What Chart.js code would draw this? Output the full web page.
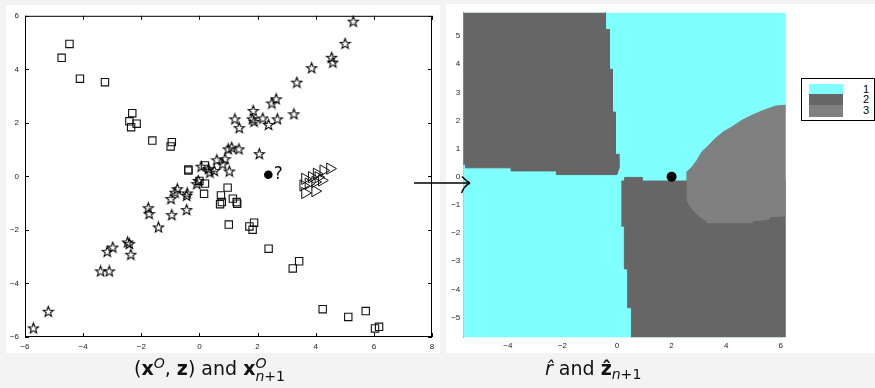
<!DOCTYPE html>
<html lang="en">
<head>
<meta charset="UTF-8">
<title>Scatter and class map</title>
<script src="https://cdn.jsdelivr.net/npm/chart.js"></script>
<style>
    body {
        margin: 0;
        width: 875px;
        height: 388px;
        background-color: #f3f3f3;
        position: relative;
        overflow: hidden;
        font-family: "DejaVu Sans", sans-serif;
    }
    .panel {
        position: absolute;
        background-color: white;
    }
    #leftPanel { left: 6px; top: 5px; width: 434px; height: 348px; }
    #rightPanel { left: 446px; top: 4px; width: 429px; height: 349px; }
    canvas { position: absolute; left: 0; top: 0; }
    .caption {
        position: absolute;
        font-size: 19px;
        color: #111;
        white-space: nowrap;
    }
    .caption b { font-weight: bold; }
    .ss {
        display: inline-block;
        vertical-align: -0.42em;
        line-height: 0.95;
        font-size: 0.74em;
    }
    .ss span { display: block; }
    sup { font-size: 0.74em; vertical-align: 0.55em; line-height: 0; }
    sub { font-size: 0.74em; vertical-align: -0.3em; line-height: 0; }
    #legendBox {
        position: absolute;
        left: 801px;
        top: 78px;
        width: 72px;
        height: 41px;
        border: 1px solid #000;
        background: white;
    }
    .swatch { position: absolute; left: 7px; width: 34px; }
    .lab { position: absolute; right: 5px; font: 11px "Liberation Sans", Arial, sans-serif; line-height: 11px; }
    #arrow { position: absolute; left: 0; top: 0; }
</style>
</head>
<body>
<div class="panel" id="leftPanel"><canvas id="leftChart" width="434" height="348"></canvas></div>
<div class="panel" id="rightPanel"><canvas id="rightChart" width="429" height="349"></canvas></div>
<div id="legendBox"></div>
<svg id="arrow" width="875" height="388">
    <line x1="414" y1="183" x2="469" y2="183" stroke="#000" stroke-width="1.4"/>
    <path d="M462 176.5 Q466 181 470 183 M461.5 193 Q464 186 470 183" stroke="#000" stroke-width="1.4" fill="none"/>
</svg>
<div class="caption" style="left:134px; top:357px;">(<b>x</b><sup><i>O</i></sup>, <b>z</b>) and <b>x</b><span class="ss"><span><i>O</i></span><span><i>n</i>+1</span></span></div>
<div class="caption" style="left:545px; top:357px;"><i>r̂</i> and <b>ẑ</b><sub><i>n</i>+1</sub></div>

<script>
// left panel: observed points (x, y)
const starPoints = [
    [5.29, 5.8], [5.01, 4.97], [4.55, 4.45], [4.59, 4.27], [3.86, 4.06], [3.35, 3.52],
    [3.25, 2.34], [2.64, 2.9], [2.49, 2.74], [1.85, 2.46], [1.82, 2.15], [1.88, 2.06],
    [2.18, 2.18], [2.38, 1.94], [2.68, 2.15], [1.22, 2.15], [1.37, 1.82], [2.06, 0.85],
    [0.99, 1.03], [1.11, 1.09], [1.36, 1.03], [0.6, 0.62], [0.88, 0.66], [0.8, 0.47],
    [1.03, 0.2], [0.06, 0.38], [0.31, 0.29], [0.36, 0.16], [0.51, 0.22], [-0.09, -0.27],
    [-0.04, -0.15], [-0.76, -0.46], [-0.84, -0.59], [-0.98, -0.83], [-0.44, -0.71], [-0.42, -0.62],
    [-0.95, -1.43], [-0.44, -1.24], [-1.76, -1.17], [-1.73, -1.39], [-1.41, -1.89], [-2.47, -2.45],
    [-2.41, -2.51], [-2.36, -2.91], [-2.98, -2.64], [-3.17, -2.8], [-3.4, -3.53], [-3.1, -3.53],
    [-5.2, -5.04], [-5.71, -5.66]
];
const squarePoints = [
    [-4.47, 4.95], [-4.74, 4.43], [-4.11, 3.65], [-3.25, 3.52], [-2.31, 2.36], [-2.41, 2.06],
    [-2.35, 1.84], [-2.16, 1.97], [-1.62, 1.34], [-0.95, 1.28], [-0.99, 1.12], [-0.38, 0.26],
    [-0.38, 0.22], [0.19, 0.41], [0.0, -0.17], [0.19, -0.27], [0.16, -0.65], [0.97, -0.42],
    [0.74, -0.71], [0.77, -0.96], [0.71, -1.04], [1.15, -0.83], [1.28, -0.96], [1.3, -1.02],
    [1.01, -1.8], [1.72, -1.87], [1.88, -1.73], [1.83, -1.99], [2.38, -2.7], [3.21, -3.44],
    [3.43, -3.17], [4.24, -4.96], [5.12, -5.25], [5.72, -5.03], [6.04, -5.68], [6.18, -5.62]
];
const trianglePoints = [
    [3.63, -0.09], [3.86, -0.03], [4.03, 0.1], [4.26, 0.22], [4.49, 0.29], [3.57, -0.34],
    [3.75, -0.27], [3.98, -0.21], [4.21, -0.15], [4.09, -0.03], [3.63, -0.62], [3.98, -0.55]
];
const newPointLeft = [[2.37, 0.06]];
const leftXTicks = [-6, -4, -2, 0, 2, 4, 6, 8];
const leftYTicks = [-6, -4, -2, 0, 2, 4, 6];

// right panel: predicted class regions (polygon corners, data units)
const mapClasses = ['1', '2', '3'];
const mapColors = ['#80ffff', '#666666', '#808080'];
const class1Base = [[-7, -7], [7, -7], [7, 7], [-7, 7]];
const class2Upper = [
    [-7, 7], [-0.42, 7], [-0.42, 5.23], [-0.28, 5.23], [-0.28, 3.82], [-0.17, 3.82],
    [-0.17, 2.3], [-0.06, 2.3], [-0.06, 0.8], [0.07, 0.8], [0.07, 0.3], [0.0, 0.08],
    [-2.22, 0.08], [-2.22, 0.21], [-3.88, 0.21], [-3.88, 0.32], [-5.55, 0.32], [-5.55, 0.45], [-7, 0.45]
];
const class2Lower = [
    [0.16, -0.15], [0.28, -0.15], [0.28, -0.02], [0.92, -0.02], [0.92, -0.15], [7, -0.15],
    [7, -7], [0.53, -7], [0.53, -4.65], [0.39, -4.65], [0.39, -3.27], [0.27, -3.27],
    [0.27, -1.75], [0.16, -1.75]
];
const class3Region = [
    [2.56, -0.15], [2.56, 0.18], [2.75, 0.35], [2.93, 0.59], [3.11, 0.89], [3.36, 1.12],
    [3.6, 1.36], [3.9, 1.6], [4.21, 1.77], [4.58, 2.01], [4.95, 2.19], [5.31, 2.34],
    [5.56, 2.43], [5.8, 2.51], [6.13, 2.54], [7, 2.55], [7, -1.39], [6.13, -1.39],
    [5.62, -1.42], [5.56, -1.51], [5.01, -1.56], [4.95, -1.63], [3.3, -1.63], [3.24, -1.54],
    [3.05, -1.42], [2.81, -1.21], [2.65, -1.0], [2.56, -0.83]
];
const newPointRight = [[2.0, 0.0]];
const rightXTicks = [-4, -2, 0, 2, 4, 6];
const rightYTicks = [-5, -4, -3, -2, -1, 0, 1, 2, 3, 4, 5];

const toXY = arr => arr.map(p => ({x: p[0], y: p[1]}));
const minus = v => String(v).replace('-', '\u2212');
const tickFont = {family: '"Liberation Sans", Arial, sans-serif', size: 8};

// pentagram marker
function makeStar(size) {
    const c = document.createElement('canvas');
    c.width = size; c.height = size;
    const g = c.getContext('2d');
    const cx = size / 2, cy = size / 2 + 0.6, R = size / 2 - 1, r = R * 0.42;
    g.beginPath();
    for (let i = 0; i < 10; i++) {
        const a = -Math.PI / 2 + i * Math.PI / 5;
        const rad = i % 2 === 0 ? R : r;
        const px = cx + rad * Math.cos(a), py = cy + rad * Math.sin(a);
        if (i === 0) g.moveTo(px, py); else g.lineTo(px, py);
    }
    g.closePath();
    g.strokeStyle = '#000';
    g.lineWidth = 1.1;
    g.stroke();
    return c;
}

const boxTicks = {
    id: 'boxTicks',
    afterDatasetsDraw(chart) {
        const {ctx, chartArea: a, scales: {x, y}} = chart;
        ctx.save();
        ctx.strokeStyle = '#000';
        ctx.lineWidth = 1;
        ctx.strokeRect(a.left + 0.5, a.top + 0.5, a.right - a.left - 1, a.bottom - a.top - 1);
        ctx.beginPath();
        x.ticks.forEach(t => {
            const px = Math.round(x.getPixelForValue(t.value)) + 0.5;
            ctx.moveTo(px, a.bottom); ctx.lineTo(px, a.bottom - 4);
            ctx.moveTo(px, a.top); ctx.lineTo(px, a.top + 4);
        });
        y.ticks.forEach(t => {
            const py = Math.round(y.getPixelForValue(t.value)) + 0.5;
            ctx.moveTo(a.left, py); ctx.lineTo(a.left + 4, py);
            ctx.moveTo(a.right, py); ctx.lineTo(a.right - 4, py);
        });
        ctx.stroke();
        // question mark next to the new point
        const el = chart.getDatasetMeta(3).data[0];
        ctx.fillStyle = '#111';
        ctx.font = '17px "DejaVu Sans", sans-serif';
        ctx.textBaseline = 'middle';
        ctx.fillText('?', el.x + 5.5, el.y - 0.5);
        ctx.restore();
    }
};

new Chart(document.getElementById('leftChart'), {
    type: 'scatter',
    data: {
        datasets: [
            {data: toXY(starPoints), pointStyle: makeStar(13), pointRadius: 6.5, clip: false},
            {data: toXY(squarePoints), pointStyle: 'rect', pointRadius: 5.2, borderColor: '#111', borderWidth: 1.1, backgroundColor: 'rgba(0,0,0,0)', clip: false},
            {data: toXY(trianglePoints), pointStyle: 'triangle', rotation: 90, pointRadius: 6.5, borderColor: '#111', borderWidth: 1, backgroundColor: 'rgba(0,0,0,0)', clip: false},
            {data: toXY(newPointLeft), pointStyle: 'circle', pointRadius: 4.3, borderWidth: 0, backgroundColor: '#000', clip: false}
        ]
    },
    options: {
        responsive: false,
        animation: false,
        events: [],
        layout: {padding: {top: 10, right: 8, left: 0, bottom: 0}},
        plugins: {legend: {display: false}, tooltip: {enabled: false}},
        scales: {
            x: {
                min: -6, max: 8,
                grid: {display: false, drawTicks: false},
                border: {display: false},
                afterBuildTicks: s => { s.ticks = leftXTicks.map(v => ({value: v})); },
                afterFit: s => { s.height = 16; },
                ticks: {padding: 5, color: '#222', font: tickFont, maxRotation: 0, callback: minus}
            },
            y: {
                min: -6, max: 6,
                grid: {display: false, drawTicks: false},
                border: {display: false},
                afterBuildTicks: s => { s.ticks = leftYTicks.map(v => ({value: v})); },
                afterFit: s => { s.width = 19; },
                ticks: {padding: 6, color: '#222', font: tickFont, callback: minus}
            }
        }
    },
    plugins: [boxTicks]
});

const region = (pts, color, order) => ({
    data: toXY(pts), showLine: true, fill: 'shape', tension: 0,
    backgroundColor: color, borderColor: color, borderWidth: 1,
    pointRadius: 0, order: order, clip: 0
});

new Chart(document.getElementById('rightChart'), {
    type: 'scatter',
    data: {
        datasets: [
            {data: toXY(newPointRight), pointStyle: 'circle', pointRadius: 5, borderWidth: 0, backgroundColor: '#000', order: 0, clip: false},
            region(class3Region, mapColors[2], 1),
            region(class2Lower, mapColors[1], 2),
            region(class2Upper, mapColors[1], 3),
            region(class1Base, mapColors[0], 4)
        ]
    },
    options: {
        responsive: false,
        animation: false,
        events: [],
        layout: {padding: {top: 8.7, right: 89.3, left: 0, bottom: 0}},
        plugins: {legend: {display: false}, tooltip: {enabled: false}},
        scales: {
            x: {
                min: -5.63, max: 6.18,
                grid: {display: false, drawTicks: false},
                border: {display: false},
                afterBuildTicks: s => { s.ticks = rightXTicks.map(v => ({value: v})); },
                afterFit: s => { s.height = 15.7; },
                ticks: {padding: 4, color: '#222', font: tickFont, maxRotation: 0, callback: minus}
            },
            y: {
                min: -5.7, max: 5.83,
                grid: {display: false, drawTicks: false},
                border: {display: true, color: '#9a9a9a', width: 1},
                afterBuildTicks: s => { s.ticks = rightYTicks.map(v => ({value: v})); },
                afterFit: s => { s.width = 17.3; },
                ticks: {padding: 3, color: '#222', font: tickFont, callback: minus}
            }
        }
    }
});

// legend box for the class map
const legendBox = document.getElementById('legendBox');
const rowTops = [5, 15, 26];
const rowHeights = [10, 11, 11.5];
mapClasses.forEach((name, i) => {
    const sw = document.createElement('div');
    sw.className = 'swatch';
    sw.style.top = rowTops[i] + 'px';
    sw.style.height = rowHeights[i] + 'px';
    sw.style.background = mapColors[i];
    legendBox.appendChild(sw);
    const lb = document.createElement('div');
    lb.className = 'lab';
    lb.style.top = (rowTops[i] - 0.5 + i * 0.3) + 'px';
    lb.textContent = name;
    legendBox.appendChild(lb);
});
</script>
</body>
</html>
